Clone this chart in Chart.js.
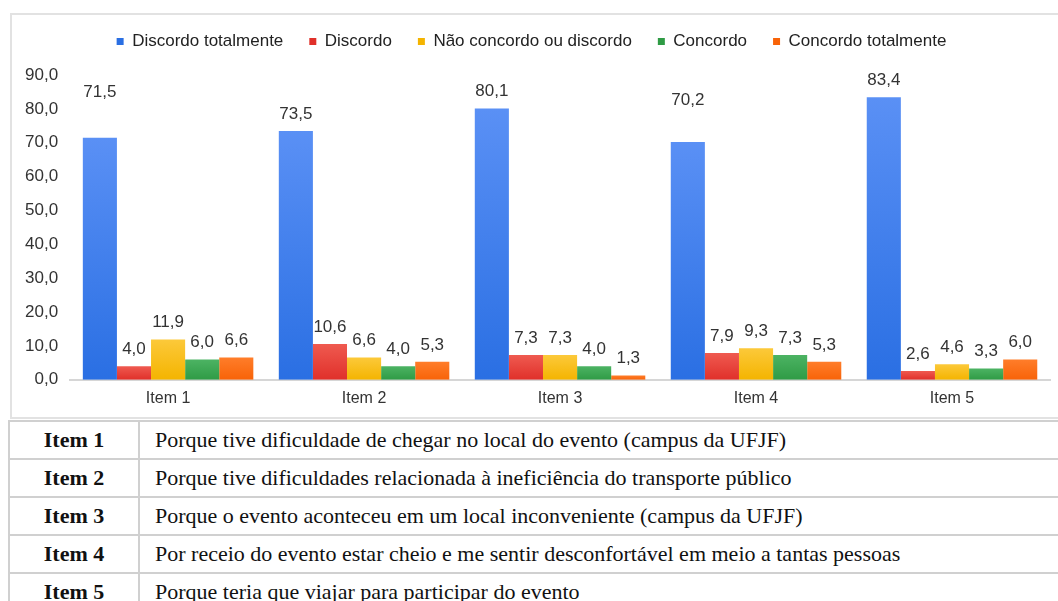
<!DOCTYPE html>
<html>
<head>
<meta charset="utf-8">
<script src="https://cdn.jsdelivr.net/npm/chart.js@4.4.0/dist/chart.umd.min.js"></script>
<style>
  body { margin: 0; background: #fff; width: 1058px; height: 601px; overflow: hidden; position: relative; }
  #box { position: absolute; left: 10px; top: 13px; width: 1060px; height: 406px; border: 2px solid #e2e2e2; box-sizing: border-box; }
  #box canvas { display: block; }
  table { position: absolute; left: 8px; top: 420px; width: 1070px; border-collapse: collapse; font-family: "Liberation Serif", serif; font-size: 22px; color: #111; }
  td { border: 2px solid #d0d0d0; height: 36px; padding: 0 0 0 15px; }
  td.k { width: 128px; font-weight: bold; text-align: center; padding: 0; }
</style>
</head>
<body>
<div id="box"><canvas id="bankChart"></canvas></div>
<table id="items"></table>
<script>
const categories = ["Item 1", "Item 2", "Item 3", "Item 4", "Item 5"];
const seriesNames = ["Discordo totalmente", "Discordo", "Não concordo ou discordo", "Concordo", "Concordo totalmente"];
const discordoTotalmente = [71.5, 73.5, 80.1, 70.2, 83.4];
const discordo = [4.0, 10.6, 7.3, 7.9, 2.6];
const naoConcordo = [11.9, 6.6, 7.3, 9.3, 4.6];
const concordo = [6.0, 4.0, 4.0, 7.3, 3.3];
const concordoTotalmente = [6.6, 5.3, 1.3, 5.3, 6.0];
const yTicks = [0, 10, 20, 30, 40, 50, 60, 70, 80, 90];
const descriptions = [
  "Porque tive dificuldade de chegar no local do evento (campus da UFJF)",
  "Porque tive dificuldades relacionada à ineficiência do transporte público",
  "Porque o evento aconteceu em um local inconveniente (campus da UFJF)",
  "Por receio do evento estar cheio e me sentir desconfortável em meio a tantas pessoas",
  "Porque teria que viajar para participar do evento"
];

// [top, bottom] of each bar's soft gradient
const colors = [
  ["#5A90F5", "#2A6FE3"],
  ["#EF5A50", "#E0302A"],
  ["#FCC93A", "#F4B400"],
  ["#4CB363", "#2F9B45"],
  ["#FF7D2A", "#F86308"],
];
const allValues = [discordoTotalmente, discordo, naoConcordo, concordo, concordoTotalmente];
const FONT = "'Liberation Sans', Arial, sans-serif";

function fmt(v) {
  return v.toFixed(1).replace(".", ",");
}

function barFill(i) {
  return function (context) {
    const chart = context.chart;
    const area = chart.chartArea;
    if (!area || context.raw === undefined) return colors[i][1];
    const top = chart.scales.y.getPixelForValue(context.raw);
    if (!(area.bottom > top)) return colors[i][1];
    const g = chart.ctx.createLinearGradient(0, top, 0, area.bottom);
    g.addColorStop(0, colors[i][0]);
    g.addColorStop(1, colors[i][1]);
    return g;
  };
}

// value labels over each bar (two of the blue ones sit higher in the original)
const valueLabels = {
  id: "valueLabels",
  afterDatasetsDraw(chart) {
    const ctx = chart.ctx;
    const extraLift = { "0-0": 28, "0-3": 25 };
    ctx.save();
    ctx.font = "17px " + FONT;
    ctx.fillStyle = "#333";
    ctx.textAlign = "center";
    ctx.textBaseline = "middle";
    chart.data.datasets.forEach((ds, i) => {
      chart.getDatasetMeta(i).data.forEach((bar, j) => {
        const lift = 17 + (extraLift[i + "-" + j] || 0);
        ctx.fillText(fmt(ds.data[j]), bar.x, bar.y - lift);
      });
    });
    ctx.restore();
  }
};

// legend sits a bit higher, with room between it and the plot
const legendGap = {
  id: "legendGap",
  beforeInit(chart) {
    const legend = chart.legend;
    const fit = legend.fit;
    legend.fit = function () {
      fit.bind(legend)();
      this.height += 7;
    };
    const draw = legend.draw;
    legend.draw = function () {
      chart.ctx.save();
      chart.ctx.translate(0, -8);
      draw.bind(legend)();
      chart.ctx.restore();
    };
  }
};

document.addEventListener("DOMContentLoaded", function () {
  const ctx = document.getElementById("bankChart").getContext("2d");
  const myChart = new Chart(ctx, {
    type: "bar",
    data: {
      labels: categories,
      datasets: seriesNames.map((name, i) => ({
        label: name,
        data: allValues[i],
        backgroundColor: barFill(i),
        borderWidth: 0,
        categoryPercentage: 0.87,
        barPercentage: 1.0,
      })),
    },
    options: {
      responsive: true,
      maintainAspectRatio: false,
      animation: false,
      layout: { padding: { left: 1, right: 18, top: 0, bottom: 0 } },
      plugins: {
        legend: {
          position: "top",
          labels: {
            boxWidth: 7,
            boxHeight: 7,
            padding: 26,
            color: "#222",
            font: { size: 17, family: FONT },
            generateLabels: (chart) =>
              Chart.defaults.plugins.legend.labels.generateLabels(chart).map((l, i) => {
                l.fillStyle = colors[i][1];
                return l;
              }),
          },
        },
        tooltip: { enabled: false },
      },
      scales: {
        x: {
          grid: { display: false, drawTicks: false },
          border: { display: true, color: "#d6d6d6", width: 2 },
          ticks: { color: "#333", font: { size: 16, family: FONT }, padding: 9 },
        },
        y: {
          min: 0,
          max: 90,
          afterBuildTicks: (axis) => { axis.ticks = yTicks.map((v) => ({ value: v })); },
          grid: { display: false, drawTicks: false },
          border: { display: false },
          ticks: {
            color: "#333",
            font: { size: 17, family: FONT },
            padding: 12,
            callback: (v) => fmt(v),
          },
        },
      },
    },
    plugins: [valueLabels, legendGap],
  });

  const table = document.getElementById("items");
  categories.forEach((c, i) => {
    const tr = document.createElement("tr");
    tr.innerHTML = "<td class='k'>" + c + "</td><td>" + descriptions[i] + "</td>";
    table.appendChild(tr);
  });
});
</script>
</body>
</html>
